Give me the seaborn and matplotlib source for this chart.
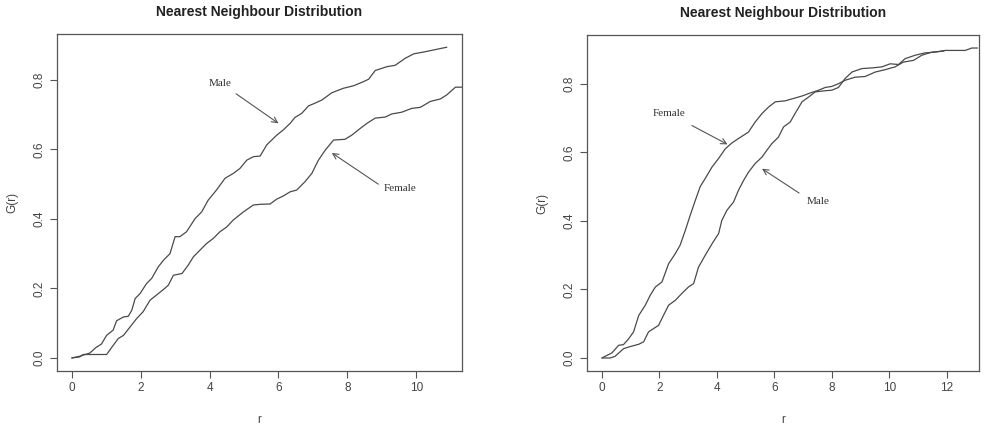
import matplotlib
matplotlib.use('Agg')
import matplotlib.pyplot as plt
import seaborn as sns
import pandas as pd

# ****** Dados (esquerda) ******
r_male_a = [0.0, 0.23, 0.52, 0.7, 0.86, 1.01, 1.2, 1.3, 1.5, 1.64, 1.74, 1.84, 1.98, 2.17, 2.32,
            2.51, 2.66, 2.85, 3.0, 3.14, 3.33, 3.58, 3.77, 3.96, 4.2, 4.45, 4.69, 4.88, 5.08,
            5.27, 5.47, 5.66, 5.95, 6.14, 6.34, 6.48, 6.68, 6.87, 7.06, 7.26, 7.55, 7.89, 8.18,
            8.47, 8.62, 8.81, 9.15, 9.39, 9.68, 9.93, 10.21, 10.5, 10.89]
g_male_a = [0.0, 0.005, 0.014, 0.03, 0.04, 0.065, 0.08, 0.107, 0.118, 0.12, 0.137, 0.171, 0.185,
            0.214, 0.229, 0.262, 0.281, 0.3, 0.349, 0.349, 0.363, 0.401, 0.42, 0.454, 0.483,
            0.517, 0.531, 0.545, 0.569, 0.579, 0.581, 0.613, 0.641, 0.656, 0.675, 0.692, 0.704,
            0.725, 0.733, 0.742, 0.763, 0.776, 0.783, 0.795, 0.802, 0.827, 0.838, 0.842, 0.862,
            0.875, 0.88, 0.886, 0.894]

r_female_a = [0.0, 0.23, 0.33, 0.6, 1.01, 1.2, 1.35, 1.5, 1.69, 1.88, 2.07, 2.27, 2.46, 2.66,
              2.8, 2.95, 3.2, 3.38, 3.53, 3.72, 3.91, 4.11, 4.3, 4.5, 4.69, 4.98, 5.27, 5.47,
              5.76, 5.95, 6.14, 6.34, 6.53, 6.77, 6.97, 7.16, 7.36, 7.6, 7.93, 8.13, 8.37, 8.57,
              8.81, 9.1, 9.29, 9.58, 9.87, 10.12, 10.41, 10.7, 10.89, 11.14, 11.4]
g_female_a = [0.0, 0.003, 0.01, 0.01, 0.01, 0.036, 0.056, 0.065, 0.089, 0.113, 0.133, 0.166,
              0.181, 0.197, 0.209, 0.238, 0.243, 0.267, 0.291, 0.31, 0.329, 0.344, 0.363, 0.377,
              0.397, 0.42, 0.44, 0.442, 0.443, 0.457, 0.466, 0.478, 0.483, 0.507, 0.531, 0.569,
              0.598, 0.627, 0.629, 0.641, 0.66, 0.675, 0.69, 0.693, 0.702, 0.707, 0.718, 0.721,
              0.738, 0.745, 0.757, 0.779, 0.779]

# ****** Dados (direita) ******
r_female_b = [0.0, 0.35, 0.58, 0.75, 0.93, 1.1, 1.28, 1.51, 1.68, 1.86, 2.09, 2.32, 2.55, 2.72,
              2.9, 3.07, 3.25, 3.42, 3.59, 3.83, 4.06, 4.29, 4.52, 4.75, 5.1, 5.33, 5.57, 5.8,
              6.03, 6.38, 6.67, 6.96, 7.25, 7.54, 7.77, 8.0, 8.23, 8.46, 8.81, 9.16, 9.51, 9.86,
              10.2, 10.49, 10.84, 11.13, 11.48, 11.9]
g_female_b = [0.0, 0.015, 0.037, 0.039, 0.056, 0.076, 0.124, 0.154, 0.183, 0.207, 0.222, 0.275,
              0.304, 0.329, 0.372, 0.416, 0.46, 0.5, 0.523, 0.557, 0.582, 0.61, 0.627, 0.64,
              0.659, 0.688, 0.713, 0.732, 0.747, 0.75, 0.757, 0.764, 0.773, 0.781, 0.789, 0.792,
              0.8, 0.81, 0.819, 0.821, 0.834, 0.841, 0.849, 0.863, 0.868, 0.883, 0.892, 0.895]

r_male_b = [0.0, 0.29, 0.46, 0.75, 0.93, 1.28, 1.45, 1.62, 1.8, 1.97, 2.14, 2.32, 2.55, 2.78,
            3.01, 3.19, 3.36, 3.59, 3.83, 4.06, 4.17, 4.35, 4.58, 4.75, 4.93, 5.1, 5.33, 5.57,
            5.74, 5.91, 6.14, 6.32, 6.55, 6.72, 6.96, 7.19, 7.42, 7.71, 8.0, 8.23, 8.46, 8.7,
            9.04, 9.39, 9.74, 10.03, 10.32, 10.55, 10.9, 11.25, 11.59, 11.94, 12.3, 12.64,
            12.87, 13.07]
g_male_b = [0.0, 0.0, 0.005, 0.027, 0.032, 0.04, 0.047, 0.076, 0.086, 0.095, 0.124, 0.154,
            0.168, 0.188, 0.207, 0.217, 0.265, 0.299, 0.333, 0.363, 0.401, 0.431, 0.455, 0.489,
            0.518, 0.542, 0.567, 0.586, 0.606, 0.625, 0.644, 0.674, 0.688, 0.713, 0.747, 0.761,
            0.776, 0.779, 0.781, 0.789, 0.815, 0.834, 0.844, 0.846, 0.849, 0.858, 0.856, 0.873,
            0.883, 0.89, 0.892, 0.897, 0.897, 0.897, 0.904, 0.904]

sns.set_style('white')
plt.rcParams['font.family'] = ['Liberation Sans', 'DejaVu Sans']

cor_linha = '#4a4a4a'
cor_texto = '#444444'

fig = plt.figure(figsize=(9.95, 4.28), dpi=100)
ax1 = fig.add_axes([57 / 995, 57 / 428, 405 / 995, 337 / 428])
ax2 = fig.add_axes([587 / 995, 57 / 428, 392 / 995, 336 / 428])


def painel(ax, curvas, xlim, ylim, xticks, notas):
    for r, g in curvas:
        df = pd.DataFrame({'r': r, 'G': g})
        sns.lineplot(data=df, x='r', y='G', ax=ax, color=cor_linha, lw=0.9,
                     estimator=None, sort=False)
    ax.set_xlim(*xlim)
    ax.set_ylim(*ylim)
    ax.set_xticks(xticks)
    ax.set_yticks([0.0, 0.2, 0.4, 0.6, 0.8])
    ax.set_yticklabels(['0.0', '0.2', '0.4', '0.6', '0.8'], rotation=90, va='center')
    ax.tick_params(axis='both', length=5, width=0.8, color='#555555', labelsize=8.5,
                   labelcolor=cor_texto, pad=3, bottom=True, left=True)
    for s in ax.spines.values():
        s.set_color('#555555')
        s.set_linewidth(0.9)
    ax.set_xlabel('r', fontsize=8.5, color=cor_texto, labelpad=14)
    ax.set_ylabel('G(r)', fontsize=8.5, color=cor_texto, labelpad=11)
    ax.set_title('Nearest Neighbour Distribution', fontsize=10, fontweight='bold',
                 color='#222222', pad=13)
    for texto, xy, xytext, base in notas:
        ax.annotate('', xy=xy, xytext=base,
                    arrowprops=dict(arrowstyle='->', color='#555555', lw=0.8,
                                    shrinkA=0, shrinkB=0))
        ax.text(xytext[0], xytext[1], texto, family='Liberation Serif', fontsize=8,
                color='#333333', ha='center', va='center')


painel(ax1, [(r_male_a, g_male_a), (r_female_a, g_female_a)],
       (-0.43, 11.33), (-0.0375, 0.932), [0, 2, 4, 6, 8, 10],
       [('Male', (6.0, 0.675), (4.3, 0.789), (4.77, 0.76)),
        ('Female', (7.55, 0.59), (9.53, 0.488), (8.9, 0.50))])

painel(ax2, [(r_female_b, g_female_b), (r_male_b, g_male_b)],
       (-0.52, 13.12), (-0.038, 0.942), [0, 2, 4, 6, 8, 10, 12],
       [('Female', (4.37, 0.623), (2.34, 0.714), (3.13, 0.678)),
        ('Male', (5.57, 0.552), (7.51, 0.455), (6.86, 0.481))])

plt.savefig('out.png', dpi=100)
